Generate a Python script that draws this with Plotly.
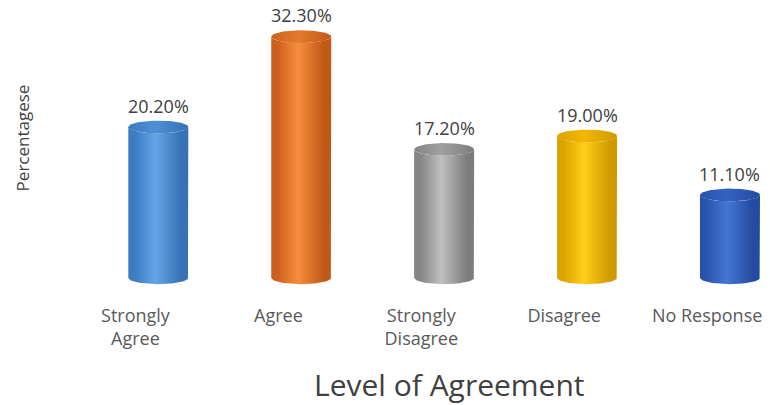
import numpy as np
import plotly.graph_objects as go

# Survey responses by level of agreement
categories = ["Strongly<br>Agree", "Agree", "Strongly<br>Disagree", "Disagree", "No Response"]
percentages = [20.2, 32.3, 17.2, 19.0, 11.1]

# Cylinder shading: (edge, highlight, far edge, cap)
palette = [
    ("#3b7bc0", "#64a5e8", "#3672b5", "#4f8fd6"),
    ("#cc601c", "#f78d3c", "#c05818", "#e57a2c"),
    ("#858585", "#c0c0c0", "#7c7c7c", "#a0a0a0"),
    ("#dba300", "#ffcd18", "#cf9a00", "#f2b800"),
    ("#2753ad", "#4476d4", "#234ba0", "#3462c2"),
]

bar_offset = 0.16   # cylinders sit slightly right of their category label
half_w = 0.21       # cylinder radius in x units
cap_h = 0.85        # elliptical cap half-height in y units

fig = go.Figure()
t_front = np.linspace(np.pi, 2 * np.pi, 40)
t_full = np.linspace(0, 2 * np.pi, 80)

for i, (v, (c0, c1, c2, ccap)) in enumerate(zip(percentages, palette)):
    cx = i + bar_offset
    # body: left side, front arc of top cap, right side, front arc of base
    xs = [cx - half_w]
    ys = [0.0]
    xs += list(cx + half_w * np.cos(t_front))
    ys += list(v + cap_h * np.sin(t_front))
    xs += [cx + half_w]
    ys += [0.0]
    xs += list(cx + half_w * np.cos(t_front[::-1]))
    ys += list(0.0 + cap_h * np.sin(t_front[::-1]))
    fig.add_trace(go.Scatter(
        x=xs, y=ys, mode="lines", fill="toself",
        line=dict(width=0, color=c0),
        fillgradient=dict(type="horizontal",
                          colorscale=[[0, c0], [0.1, c0], [0.45, c1], [0.88, c2], [1, c2]]),
        hoverinfo="skip", showlegend=False,
    ))
    # top cap
    fig.add_trace(go.Scatter(
        x=list(cx + half_w * np.cos(t_full)),
        y=list(v + cap_h * np.sin(t_full)),
        mode="lines", fill="toself",
        line=dict(width=0, color=ccap),
        fillgradient=dict(type="horizontal",
                          colorscale=[[0, c0], [0.45, ccap], [1, c2]]),
        hoverinfo="skip", showlegend=False,
    ))
    fig.add_annotation(
        x=cx, y=v + cap_h, text=f"{v:.2f}%", showarrow=False,
        yanchor="bottom", yshift=1,
        font=dict(family="Open Sans", size=18, color="#404040"),
    )

# axis titles
fig.add_annotation(
    xref="paper", yref="paper", x=0.546, y=-0.345, text="Level of Agreement",
    showarrow=False, xanchor="center", yanchor="middle",
    font=dict(family="Open Sans", size=30, color="#404040"),
)
fig.add_annotation(
    xref="paper", yref="paper", x=-0.059, y=0.545, text="Percentagese",
    showarrow=False, textangle=-90, xanchor="center", yanchor="middle",
    font=dict(family="Open Sans", size=17, color="#404040"),
)

fig.update_layout(
    width=770, height=405,
    margin=dict(l=64, r=0, t=12, b=116),
    paper_bgcolor="white", plot_bgcolor="white",
    xaxis=dict(
        range=[-0.5, 4.44], tickvals=list(range(len(categories))), ticktext=categories,
        showgrid=False, zeroline=False, showline=False, ticks="",
        ticklabelstandoff=14,
        tickfont=dict(family="Open Sans", size=18, color="#595959"),
    ),
    yaxis=dict(range=[-1.5, 35.6], visible=False),
)

fig.write_html("out.html")
